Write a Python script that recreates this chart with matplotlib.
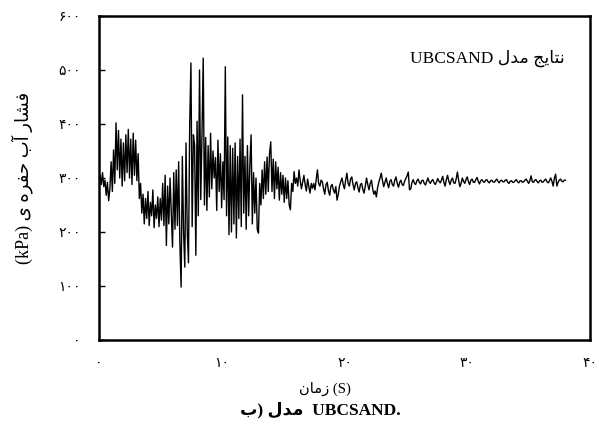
import numpy as np
import matplotlib
matplotlib.use("Agg")
import matplotlib.pyplot as plt

# ============================================================
# 1. Data
# ============================================================

# strong shaking part, 0 - 15.9 s, one value every 0.1 s
p_strong = [
    298, 306, 288, 310, 284, 296, 268, 292, 258, 280,
    330, 275, 352, 290, 402, 315, 388, 300, 372, 285,
    365, 295, 380, 310, 390, 300, 372, 288, 383, 305,
    370, 295, 345, 262, 290, 235, 270, 215, 262, 225,
    275, 212, 255, 230, 278, 208, 250, 225, 265, 210,
    262, 222, 290, 212, 305, 175, 285, 215, 300, 235,
    172, 310, 205, 315, 212, 330, 180, 98, 340, 200,
    135, 365, 200, 143, 400, 513, 210, 380, 360, 157,
    405, 230, 500, 260, 380, 522, 250, 375, 240, 360,
    265, 383, 280, 350, 300, 338, 240, 370, 275, 345,
    245, 330, 260, 506, 230, 376, 195, 360, 200, 355,
    215, 365, 189, 340, 225, 372, 210, 454, 235, 340,
    205, 360, 230, 325, 380, 215, 310, 235, 300, 205,
    198, 290, 250, 315, 262, 330, 270, 339, 275, 345,
    367, 275, 335, 262, 330, 280, 320, 259, 310, 270,
    305, 255, 300, 262, 295, 250, 241, 290, 275, 312,
]

# decaying part, 16 - 38 s, one value every 0.1 s
p_decay = [
    290, 300, 285, 315, 295, 280, 292, 305, 288, 276,
    298, 284, 272, 290, 281, 290, 278, 296, 315, 290,
    285, 296, 293, 280, 270, 288, 292, 276, 268, 285,
    288, 278, 272, 284, 259, 270, 285, 293, 300, 288,
    280, 296, 309, 290, 285, 298, 302, 288, 278, 290,
    293, 282, 274, 288, 290, 279, 272, 285, 300, 288,
    278, 290, 296, 280, 270, 276, 265, 282, 292, 300,
    309, 295, 284, 292, 300, 290, 282, 294, 297, 288,
    285, 296, 302, 290, 283, 292, 296, 288, 286, 294,
    299, 304, 311, 278, 280, 292, 297, 290, 288, 295,
    298, 292, 289, 295, 296, 290, 287, 294, 300, 293,
    290, 295, 297, 291, 288, 293, 299, 294, 291, 296,
    303, 292, 285, 297, 305, 294, 288, 296, 300, 291,
    290, 298, 311, 296, 284, 290, 300, 294, 290, 297,
    302, 293, 288, 296, 298, 292, 292, 297, 301, 294,
    289, 295, 297, 293, 292, 296, 297, 293, 291, 295,
    296, 293, 292, 295, 298, 294, 291, 295, 296, 293,
    293, 296, 297, 292, 290, 294, 295, 292, 292, 295,
    297, 293, 291, 295, 295, 292, 293, 296, 298, 294,
    290, 295, 304, 293, 292, 296, 297, 293, 291, 295,
    296, 292, 293, 296, 298, 293, 291, 295, 300, 294,
    285, 300, 307, 285, 292, 296, 298, 294, 293, 296,
    296,
]

t_strong = np.arange(len(p_strong)) * 0.1
t_decay = 16.0 + np.arange(len(p_decay)) * 0.1

time_s = np.concatenate([t_strong, t_decay])
pressure = np.concatenate([p_strong, p_decay])

x_ticks = [0, 10, 20, 30, 40]
y_ticks = [0, 100, 200, 300, 400, 500, 600]

# ============================================================
# 2. Persian text helpers (matplotlib does no arabic shaping)
# ============================================================

AR_FORMS = {
    "ا": ("\ufe8d", "\ufe8e", None, None),
    "آ": ("\ufe81", "\ufe82", None, None),
    "ب": ("\ufe8f", "\ufe90", "\ufe91", "\ufe92"),
    "ت": ("\ufe95", "\ufe96", "\ufe97", "\ufe98"),
    "ج": ("\ufe9d", "\ufe9e", "\ufe9f", "\ufea0"),
    "ح": ("\ufea1", "\ufea2", "\ufea3", "\ufea4"),
    "د": ("\ufea9", "\ufeaa", None, None),
    "ر": ("\ufead", "\ufeae", None, None),
    "ز": ("\ufeaf", "\ufeb0", None, None),
    "ش": ("\ufeb5", "\ufeb6", "\ufeb7", "\ufeb8"),
    "ف": ("\ufed1", "\ufed2", "\ufed3", "\ufed4"),
    "ل": ("\ufedd", "\ufede", "\ufedf", "\ufee0"),
    "م": ("\ufee1", "\ufee2", "\ufee3", "\ufee4"),
    "ن": ("\ufee5", "\ufee6", "\ufee7", "\ufee8"),
    "ه": ("\ufee9", "\ufeea", "\ufeeb", "\ufeec"),
    "ی": ("\ufbfc", "\ufbfd", "\ufbfe", "\ufbff"),
}


def shape_fa(text):
    """Join letters and put a persian phrase in visual (left to right) order."""
    out = []
    for i, ch in enumerate(text):
        forms = AR_FORMS.get(ch)
        if forms is None:
            out.append(ch)
            continue
        prev = AR_FORMS.get(text[i - 1]) if i > 0 else None
        nxt = AR_FORMS.get(text[i + 1]) if i + 1 < len(text) else None
        join_prev = prev is not None and prev[2] is not None
        join_next = nxt is not None and forms[2] is not None
        if join_prev and join_next:
            out.append(forms[3])
        elif join_prev:
            out.append(forms[1])
        elif join_next:
            out.append(forms[2])
        else:
            out.append(forms[0])
    return "".join(reversed(out))


FA_DIGITS = str.maketrans("0123456789", "۰۱۲۳۴۵۶۷۸۹")


def fa_num(v):
    return str(v).translate(FA_DIGITS)


FONTS = ["Liberation Serif", "DejaVu Sans"]

# ============================================================
# 3. Plot
# ============================================================

fig = plt.figure(figsize=(5.99, 4.28), dpi=100)
ax = fig.add_axes([0.165, 0.2056, 0.820, 0.757])

ax.plot(time_s, pressure, color="black", linewidth=1.0)

ax.set_xlim(0, 40)
ax.set_ylim(0, 600)

ax.set_xticks(x_ticks)
ax.set_xticklabels([fa_num(v) for v in x_ticks], family=FONTS, fontsize=10)
ax.set_yticks(y_ticks)
ax.set_yticklabels([fa_num(v) for v in y_ticks], family=FONTS, fontsize=10)
ax.tick_params(axis="y", direction="in", length=4, width=1, pad=13)
ax.tick_params(axis="x", length=0, pad=12)

for side in ax.spines.values():
    side.set_linewidth(1.8)

ax.set_ylabel("(kPa) " + shape_fa("فشار آب حفره ی"), family=FONTS,
              fontsize=13)
ax.yaxis.set_label_coords(-0.135, 0.5)
ax.set_xlabel(shape_fa("زمان") + " (S)", family=FONTS, fontsize=10.5)
ax.xaxis.set_label_coords(0.46, -0.13)

ax.text(0.949, 0.87, "UBCSAND " + shape_fa("نتایج مدل"), transform=ax.transAxes,
        ha="right", va="center", family=FONTS, fontsize=12.5)

fig.text(0.535, 0.042, shape_fa("ب") + ") " + shape_fa("مدل") + "  UBCSAND.",
         ha="center", va="center", family=FONTS, fontsize=12.5,
         fontweight="bold")

fig.savefig("out.png", dpi=100)
